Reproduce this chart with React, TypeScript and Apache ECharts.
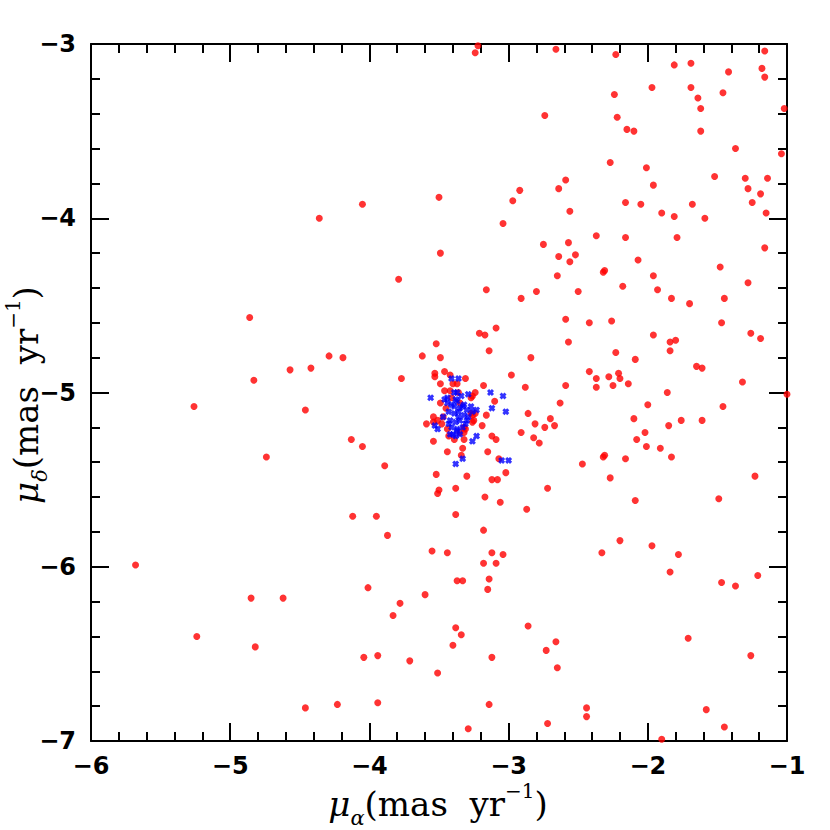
import React, { useEffect, useRef } from 'react';
import * as echarts from 'echarts';

const xRange = [-6, -1];
const yRange = [-7, -3];

// field stars (red filled circles): [mu_alpha, mu_delta]
const fieldStars: [number, number][] = [
  [-3.50,-3.88],[-4.05,-3.92],[-4.36,-4.00],[-3.49,-4.20],[-3.79,-4.35],[-4.86,-4.57],[-3.52,-4.72],[-4.29,-4.79],[-4.19,-4.80],[-3.62,-4.79],[-3.49,-4.80],[-4.57,-4.87],[-4.42,-4.86],[-4.83,-4.93],[-3.77,-4.92],[-3.53,-4.89],[-3.53,-4.91],[-3.49,-4.95],
  [-3.22,-3.01],[-3.24,-3.05],[-2.66,-3.03],[-2.23,-3.06],[-1.16,-3.04],[-1.81,-3.12],[-1.69,-3.11],[-1.42,-3.16],[-1.18,-3.14],[-1.16,-3.19],[-1.97,-3.25],[-1.69,-3.25],[-1.46,-3.28],[-1.64,-3.31],[-2.24,-3.29],[-1.62,-3.37],[-1.02,-3.37],[-2.74,-3.41],[-2.22,-3.42],[-2.15,-3.49],[-2.10,-3.50],[-1.62,-3.50],[-1.37,-3.60],[-1.04,-3.63],[-2.27,-3.68],[-2.01,-3.71],[-1.52,-3.76],[-1.30,-3.77],[-1.14,-3.77],[-2.59,-3.78],[-2.64,-3.83],[-1.96,-3.81],[-1.28,-3.83],[-1.19,-3.86],[-2.92,-3.84],[-2.97,-3.90],[-2.16,-3.91],[-2.05,-3.92],[-1.68,-3.92],[-1.25,-3.91],[-2.56,-3.96],[-1.90,-3.97],[-1.81,-3.99],[-1.15,-3.97],[-1.59,-4.00],[-3.04,-4.03],[-2.37,-4.10],[-2.16,-4.11],[-1.79,-4.11],[-2.75,-4.15],[-2.57,-4.14],[-1.16,-4.17],[-2.64,-4.22],[-2.52,-4.21],[-2.56,-4.25],[-2.07,-4.24],[-2.32,-4.31],[-2.31,-4.30],[-1.48,-4.28],[-2.65,-4.33],[-1.96,-4.33],[-1.28,-4.37],[-3.16,-4.41],[-2.18,-4.39],[-1.93,-4.41],[-2.80,-4.42],[-2.50,-4.42],[-2.91,-4.46],[-1.83,-4.46],[-1.45,-4.46],[-1.70,-4.49],[-2.59,-4.58],[-2.42,-4.60],[-2.26,-4.59],[-1.47,-4.60],[-3.09,-4.63],[-3.21,-4.66],[-3.17,-4.67],[-1.96,-4.67],[-1.84,-4.71],[-1.80,-4.70],[-1.26,-4.66],[-1.19,-4.69],[-2.57,-4.71],[-3.14,-4.76],[-2.23,-4.77],[-1.84,-4.76],[-2.84,-4.80],[-2.09,-4.81],[-1.65,-4.85],[-1.61,-4.86],[-1.32,-4.94],[-3.46,-4.88],[-3.42,-4.90],[-3.31,-4.92],[-3.40,-4.95],[-3.18,-4.96],[-2.98,-4.90],[-2.88,-4.97],[-2.59,-4.96],[-2.42,-4.88],[-2.37,-4.92],[-2.28,-4.91],[-2.21,-4.89],[-2.20,-4.92],[-2.25,-4.96],[-2.37,-4.97],[-2.14,-4.95],
  [-1.86,-5.00],[-1.00,-5.01],[-2.00,-5.07],[-1.46,-5.08],[-2.63,-5.06],[-2.86,-5.12],[-2.70,-5.15],[-2.81,-5.18],[-2.74,-5.20],[-2.67,-5.19],[-2.10,-5.15],[-1.85,-5.19],[-1.76,-5.16],[-1.61,-5.16],[-2.91,-5.23],[-2.82,-5.26],[-2.78,-5.29],[-2.02,-5.23],[-2.08,-5.27],[-2.01,-5.31],[-1.91,-5.32],[-1.83,-5.37],[-2.32,-5.37],[-2.31,-5.36],[-2.16,-5.38],[-2.47,-5.41],[-2.27,-5.49],[-1.23,-5.48],[-1.49,-5.61],[-2.09,-5.62],[-2.72,-5.55],[-2.87,-5.67],[-2.20,-5.85],[-1.97,-5.88],[-2.33,-5.92],[-1.78,-5.93],[-1.84,-6.03],[-1.47,-6.09],[-1.37,-6.11],[-1.21,-6.05],[-2.86,-6.34],[-1.71,-6.41],[-2.73,-6.48],[-2.66,-6.43],[-2.65,-6.58],[-1.26,-6.51],[-2.44,-6.81],[-2.44,-6.86],[-1.58,-6.82],[-2.72,-6.90],[-1.45,-6.92],[-1.90,-6.99],
  [-3.52,-5.47],[-3.51,-5.58],[-3.50,-5.56],[-3.38,-5.55],[-3.30,-5.48],[-3.17,-5.60],[-3.12,-5.50],[-3.08,-5.50],[-3.02,-5.46],[-3.06,-5.63],[-3.38,-5.70],[-3.18,-5.79],[-3.55,-5.91],[-3.44,-5.92],[-3.12,-5.92],[-3.04,-5.93],[-3.18,-5.98],[-3.09,-5.98],[-3.37,-6.08],[-3.33,-6.08],[-3.14,-6.07],[-3.15,-6.13],[-3.38,-6.35],[-3.34,-6.39],[-3.40,-6.45],[-3.12,-6.52],[-3.51,-6.61],[-3.14,-6.79],[-3.29,-6.93],
  [-3.54,-5.14],[-3.54,-5.28],[-3.44,-5.34],[-3.34,-5.36],[-3.33,-5.32],[-3.15,-5.34],[-3.12,-5.25],[-3.09,-5.27],[-3.19,-5.19],[-3.16,-5.13],[-3.10,-5.05],[-3.26,-5.17],[-3.26,-5.13],[-3.32,-5.23],[-3.32,-5.20],
  [-5.26,-5.08],[-4.46,-5.10],[-4.13,-5.27],[-4.05,-5.31],[-4.74,-5.37],[-3.89,-5.42],[-3.59,-5.18],[-4.12,-5.71],[-3.95,-5.71],[-3.87,-5.82],[-5.68,-5.99],[-4.01,-6.12],[-3.60,-6.16],[-3.78,-6.21],[-4.85,-6.18],[-4.62,-6.18],[-3.83,-6.28],[-5.24,-6.40],[-4.82,-6.46],[-4.04,-6.52],[-3.94,-6.51],[-3.71,-6.54],[-4.46,-6.81],[-4.23,-6.79],[-3.94,-6.78],
  [-3.46,-4.99],[-3.36,-5.00],[-3.24,-5.00],[-3.26,-5.02],[-3.24,-5.12],[-3.07,-5.38],[-3.27,-5.03],[-3.45,-5.09],[-3.47,-5.14],[-3.51,-5.16],[-3.54,-5.17],[-3.48,-5.18],[-3.25,-5.16],[-3.44,-5.21],[-3.35,-5.23],[-3.31,-5.21],[-3.43,-5.25],[-3.39,-5.27],[-3.32,-5.27],[-3.27,-5.12],[-3.49,-5.06],[-3.41,-5.03],[-3.35,-5.06],[-3.37,-4.95],[-3.42,-4.99],
];

// cluster members (blue crosses)
const members: [number, number][] = [
  [-3.56,-5.03],[-3.53,-5.19],[-3.51,-5.21],[-3.41,-4.92],[-3.36,-4.92],[-3.39,-5.00],[-3.29,-5.01],[-3.13,-5.00],[-3.04,-5.02],[-3.46,-5.04],[-3.44,-5.03],[-3.23,-5.10],[-3.12,-5.09],[-3.02,-5.11],[-3.47,-5.14],[-3.42,-5.24],[-3.38,-5.25],[-3.35,-5.24],[-3.26,-5.28],[-3.23,-5.25],[-3.33,-5.38],[-3.38,-5.41],[-3.05,-5.39],[-3.00,-5.39],
  [-3.44,-5.06],[-3.41,-5.07],[-3.37,-5.05],[-3.33,-5.08],[-3.30,-5.10],[-3.43,-5.11],[-3.39,-5.12],[-3.36,-5.11],[-3.32,-5.13],[-3.29,-5.14],[-3.42,-5.16],[-3.38,-5.17],[-3.35,-5.16],[-3.31,-5.18],[-3.41,-5.20],[-3.37,-5.21],[-3.33,-5.20],[-3.39,-5.08],[-3.36,-5.14],[-3.32,-5.07],[-3.30,-5.16],[-3.38,-5.04],[-3.34,-5.02],[-3.27,-5.08],[-3.26,-5.11],[-3.43,-5.18],[-3.37,-5.22],[-3.35,-5.09],[-3.37,-5.00],[-3.40,-5.24],
];

const xTitle = '{mu|μ}{sub|α}{t|(mas  yr}{sup|−1}{t|)}';
const yTitle = '{mu|μ}{sub|δ}{t|(mas  yr}{sup|−1}{t|)}';

const crossPath = 'path://M0,3L3,0L5,2L7,0L10,3L8,5L10,7L7,10L5,8L3,10L0,7L2,5Z';

export default function App() {
  const ref = useRef<HTMLDivElement>(null);
  useEffect(() => {
    document.body.style.margin = '0';
    const chart = echarts.init(ref.current!, null, { renderer: 'svg' });
    const fmt = (v: number) => String(v).replace('-', '\u2212');
    const black = '#000';
    const line = { lineStyle: { color: black, width: 2 } };
    const tick = { show: true, inside: true, length: 18, lineStyle: { color: black, width: 2 } };
    const minor = { show: true, splitNumber: 5, length: 9, lineStyle: { color: black, width: 2 } };
    const labelFont = { fontFamily: 'DejaVu Sans', fontWeight: 'bold' as const, fontSize: 24, lineHeight: 24, color: black };
    const serif = 'DejaVu Serif';
    const rich = {
      mu: { fontFamily: serif, fontStyle: 'italic', fontSize: 34, lineHeight: 40, color: black },
      sub: { fontFamily: serif, fontStyle: 'italic', fontSize: 21, lineHeight: 12, padding: [28, 0, 0, 0], verticalAlign: 'middle', color: black },
      t: { fontFamily: serif, fontSize: 34, lineHeight: 40, color: black },
      sup: { fontFamily: serif, fontSize: 20, lineHeight: 12, padding: [0, 0, 26, 0], verticalAlign: 'middle', color: black },
    };
    chart.setOption({
      animation: false,
      backgroundColor: '#fff',
      grid: { left: 91, top: 44, width: 696, height: 697, containLabel: false },
      xAxis: [
        {
          type: 'value', min: xRange[0], max: xRange[1], interval: 1, position: 'bottom',
          axisLine: { show: true, onZero: false, ...line }, axisTick: tick, minorTick: minor,
          splitLine: { show: false },
          axisLabel: { ...labelFont, margin: 13, formatter: fmt, showMinLabel: true, showMaxLabel: true },
        },
        {
          type: 'value', min: xRange[0], max: xRange[1], interval: 1, position: 'top',
          axisLine: { show: true, onZero: false, ...line }, axisTick: tick, minorTick: minor,
          splitLine: { show: false }, axisLabel: { show: false },
        },
      ],
      yAxis: [
        {
          type: 'value', min: yRange[0], max: yRange[1], interval: 1, position: 'left',
          axisLine: { show: true, onZero: false, ...line }, axisTick: tick, minorTick: minor,
          splitLine: { show: false },
          axisLabel: { ...labelFont, margin: 15, formatter: fmt, showMinLabel: true, showMaxLabel: true },
        },
        {
          type: 'value', min: yRange[0], max: yRange[1], interval: 1, position: 'right',
          axisLine: { show: true, onZero: false, ...line }, axisTick: tick, minorTick: minor,
          splitLine: { show: false }, axisLabel: { show: false },
        },
      ],
      series: [
        {
          type: 'scatter', xAxisIndex: 0, yAxisIndex: 0, data: fieldStars,
          symbol: 'circle', symbolSize: 7, itemStyle: { color: '#ff0000' }, silent: true,
        },
        {
          type: 'scatter', xAxisIndex: 0, yAxisIndex: 0, data: members,
          symbol: crossPath, symbolSize: 7, itemStyle: { color: '#0000ff' }, silent: true,
        },
      ],
      graphic: [
        {
          type: 'text', x: 438, y: 804,
          style: { text: xTitle, rich, align: 'center', verticalAlign: 'middle', fill: black },
        },
        {
          type: 'text', x: 26, y: 395, rotation: Math.PI / 2,
          style: { text: yTitle, rich, align: 'center', verticalAlign: 'middle', fill: black },
        },
      ],
    });
    return () => chart.dispose();
  }, []);
  return <div ref={ref} style={{ width: 830, height: 830 }} />;
}
